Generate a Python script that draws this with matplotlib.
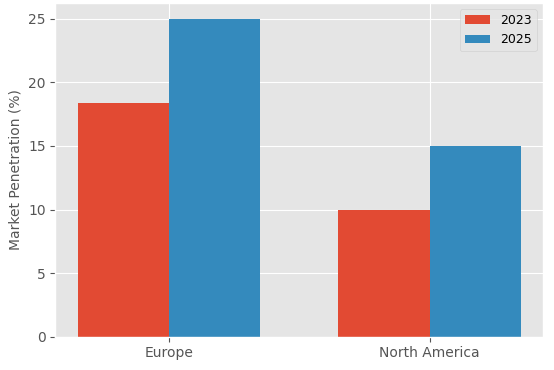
import matplotlib
matplotlib.use("Agg")
import matplotlib.pyplot as plt
import numpy as np

regions = ["Europe", "North America"]
values_2023 = [18.4, 10]
values_2025 = [25, 15]

plt.style.use("ggplot")

fig, ax = plt.subplots(figsize=(5.54, 3.70), dpi=100)
x = np.arange(len(regions))
width = 0.35

ax.bar(x - width / 2, values_2023, width, label="2023")
ax.bar(x + width / 2, values_2025, width, label="2025")

ax.set_xticks(x)
ax.set_xticklabels(regions)
ax.tick_params(labelsize=10)
ax.set_ylabel("Market Penetration (%)", fontsize=10)
ax.legend(loc="upper right", fontsize=9)

fig.subplots_adjust(left=0.1, right=0.98, top=0.992, bottom=0.09)
fig.savefig("out.png")
